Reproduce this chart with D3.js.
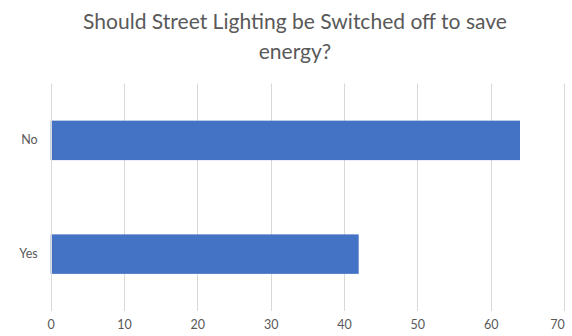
<!DOCTYPE html>
<html><head><meta charset="utf-8">
<script src="https://cdn.jsdelivr.net/npm/d3@7"></script>
<style>html,body{margin:0;padding:0;background:#fff;}svg{display:block;}</style>
</head><body>
<script>
const categories = ["No", "Yes"];
const values = [64, 42];
const xTicks = [0, 10, 20, 30, 40, 50, 60, 70];
const titleLines = ["Should Street Lighting be Switched off to save", "energy?"];

const W = 572, H = 336;
const margin = {left: 50.7, right: 572 - 564, top: 83.5, bottom: 336 - 311};
const FONT = "Lato, 'Open Sans', sans-serif";

const svg = d3.select("body").append("svg").attr("width", W).attr("height", H);
svg.append("rect").attr("width", W).attr("height", H).attr("fill", "#fff");

const x = d3.scaleLinear().domain([0, 70]).range([margin.left, W - margin.right]);
const y = d3.scaleBand().domain(categories).range([margin.top, H - margin.bottom]).paddingInner(0.653).paddingOuter(0.3265);

// gridlines
svg.append("g").selectAll("line").data(xTicks.slice(1)).join("line")
  .attr("x1", d => Math.round(x(d)) + 0.5).attr("x2", d => Math.round(x(d)) + 0.5)
  .attr("y1", margin.top).attr("y2", H - margin.bottom)
  .attr("stroke", "#d9d9d9").attr("stroke-width", 1);

// bars
svg.append("g").selectAll("rect").data(categories).join("rect")
  .attr("x", x(0)).attr("y", d => y(d))
  .attr("width", (d, i) => x(values[i]) - x(0))
  .attr("height", y.bandwidth())
  .attr("fill", "#4472c4");

// vertical axis line
svg.append("line")
  .attr("x1", Math.round(x(0)) + 0.5).attr("x2", Math.round(x(0)) + 0.5)
  .attr("y1", margin.top).attr("y2", H - margin.bottom)
  .attr("stroke", "#d9d9d9");

// x axis tick labels
const xAxis = d3.axisBottom(x).tickValues(xTicks).tickSize(0).tickPadding(0);
const gx = svg.append("g").attr("transform", `translate(0,${H - margin.bottom})`).call(xAxis);
gx.select(".domain").remove();
gx.selectAll("text").attr("y", 17.5).attr("dy", 0)
  .attr("font-family", FONT).attr("font-size", 12.5).attr("fill", "#595959");
gx.selectAll(".tick").filter(d => d === 70).select("text").attr("dx", -7);

// y axis labels
const yAxis = d3.axisLeft(y).tickSize(0).tickPadding(13);
const gy = svg.append("g").attr("transform", `translate(${x(0)},0)`).call(yAxis);
gy.select(".domain").remove();
gy.selectAll("text").attr("font-family", FONT).attr("font-size", 12.5).attr("fill", "#595959");

// title
const title = svg.append("text").attr("font-family", FONT).attr("fill", "#595959")
  .attr("text-anchor", "middle").attr("font-size", 21);
title.selectAll("tspan").data(titleLines).join("tspan")
  .attr("x", 295).attr("y", (d, i) => 29 + i * 30).text(d => d);
const firstW = title.select("tspan").node().getComputedTextLength();
title.attr("font-size", 21 * 424 / firstW);
</script>
</body></html>
